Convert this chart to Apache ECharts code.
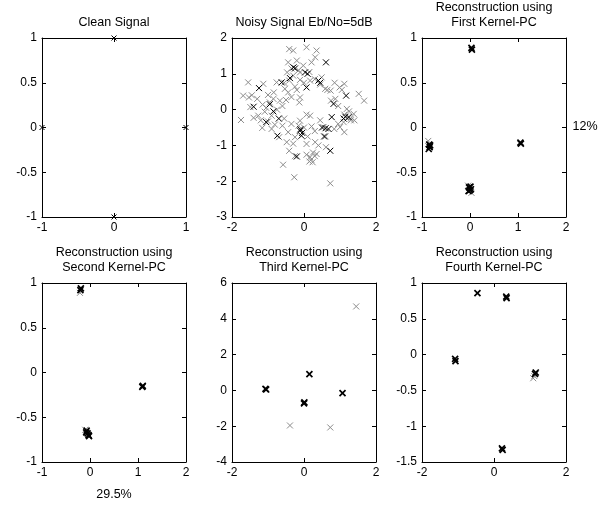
<!DOCTYPE html>
<html>
<head>
<meta charset="utf-8">
<script src="https://cdn.jsdelivr.net/npm/echarts@6/dist/echarts.min.js"></script>
<style>
  html, body { margin: 0; padding: 0; background: #fff; }
  #chart { width: 613px; height: 507px; }
</style>
</head>
<body>
<div id="chart"></div>
<script>
// panel titles
const titles = [
  'Clean Signal',
  'Noisy Signal Eb/No=5dB',
  'Reconstruction using\nFirst Kernel-PC',
  'Reconstruction using\nSecond Kernel-PC',
  'Reconstruction using\nThird Kernel-PC',
  'Reconstruction using\nFourth Kernel-PC',
]

// axis ranges [min, max, interval]
const xRanges = [[-1, 1, 1], [-2, 2, 2], [-1, 2, 1], [-1, 2, 1], [-2, 2, 2], [-2, 2, 2]]
const yRanges = [[-1, 1, 0.5], [-3, 2, 1], [-1, 1, 0.5], [-1, 1, 0.5], [-4, 6, 2], [-1.5, 1, 0.5]]

const cleanPts = [[0, 1], [0, -1], [-1, 0], [1, 0]]

const noisyGray = [
  [-1.75, -0.29], [-1.55, 0.76], [-1.69, 0.39], [-1.53, 0.34], [-1.49, 0.07], [-1.40, -0.23],
  [-1.27, -0.17], [-1.16, -0.51], [-1.13, 0.72], [-1.15, 0.14], [-1.09, -0.06], [-1.0, -0.33],
  [-0.90, -0.17], [-0.81, -0.42], [-0.90, -0.54], [-0.69, -0.77], [-1.0, 0.41], [-0.84, 0.48],
  [-0.76, 0.76], [-0.67, 0.25], [-0.50, 0.27], [-0.44, 0.48], [-0.53, 0.58], [-0.41, 0.81],
  [-0.47, 1.04], [-0.41, 1.69], [-0.30, 1.65], [-0.44, 1.32], [-0.20, 1.37], [-0.11, 1.04],
  [-0.11, 0.83], [-0.25, 0.64], [-0.11, 0.34], [-0.13, 0.20], [0.07, 1.74], [0.35, 1.65],
  [0.31, 1.46], [0.21, 1.32], [-0.02, 1.23], [0.17, 0.81], [0.49, 0.90], [0.59, 0.58],
  [0.74, 0.53], [0.87, 0.30], [0.99, 0.62], [1.12, 0.72], [1.19, 0.02], [1.52, 0.44],
  [1.67, 0.25], [1.38, -0.12], [1.12, -0.14], [1.0, -0.49], [1.12, -0.63], [0.84, -0.54],
  [0.54, -0.49], [0.21, -0.47], [0.07, -0.14], [0.17, -0.17], [-0.11, -0.31], [-0.25, -0.77],
  [-0.44, -0.63], [-0.48, -0.91], [-0.41, -1.15], [0.07, -0.96], [0.31, -0.91], [0.35, -1.24],
  [0.17, -1.33], [0.24, -1.47], [0.07, -1.26], [0.61, -1.05], [-0.58, -1.54], [-0.27, -1.89],
  [0.73, -2.06], [-1.3, 0.3], [-0.95, 0.2], [-0.6, 0.1], [-0.75, 0.0], [-0.3, 0.95],
  [-0.2, 0.55], [0.0, 0.75], [0.45, 0.7], [0.65, 0.55], [0.95, 0.1], [1.3, -0.3],
  [1.1, -0.35], [0.45, -0.3], [0.6, -0.75], [-0.35, -0.4], [-0.6, -0.45], [0.2, -1.4],
  [0.3, -1.3], [-0.25, -1.3], [0.0, -0.5], [-0.35, 0.35], [-0.15, 1.1], [0.85, 0.75],
  [1.4, -0.3], [-1.2, -0.3], [-1.45, 0.4], [-1.05, 0.05], [-0.85, 0.3], [-0.55, 0.75],
  [-0.35, 1.15], [0.15, 1.05], [0.3, 0.85], [0.75, 0.25], [1.05, 0.55], [1.25, -0.05],
  [1.3, -0.25], [0.95, -0.4], [0.3, -0.6], [0.1, -0.75], [-0.15, -0.45], [-0.3, -0.95],
  [0.25, -1.2], [0.15, -1.45], [0.4, -1.0], [-0.55, -0.25],
]
const noisyBlack = [
  [-1.25, 0.60], [-1.40, 0.08], [-0.74, -0.73], [-0.62, 0.76], [-0.39, 0.88], [-0.29, 1.18],
  [0.03, 1.04], [0.07, 0.62], [0.40, 0.81], [0.61, 1.32], [0.82, 0.16], [1.17, 0.39],
  [1.24, -0.21], [0.77, -0.21], [0.68, -0.54], [0.56, -0.75], [-0.11, -0.59], [-0.07, -0.73],
  [-0.20, -1.31], [0.73, -1.15], [-0.95, 0.15], [-0.7, -0.25], [0.5, -0.5], [0.6, -0.52],
  [-0.05, -0.65], [0.1, 1.0], [-0.25, 1.15], [1.15, -0.2], [-1.05, -0.35], [-0.85, -0.05],
  [0.45, 0.75], [-0.1, -0.55], [1.1, -0.25],
]

const pc1Gray = [[-0.87, -0.15], [-0.04, -0.65], [0.03, -0.73]]
const pc1Black = [
  [0.03, 0.89], [0.04, 0.87], [-0.85, -0.19], [-0.84, -0.22], [-0.86, -0.24], [-0.83, -0.2],
  [-0.02, -0.67], [0.0, -0.70], [0.02, -0.69], [-0.03, -0.71], [0.01, -0.66], [1.05, -0.17], [1.06, -0.18],
]
const pc2Gray = [[-0.21, 0.89], [-0.1, -0.64]]
const pc2Black = [
  [-0.19, 0.94], [-0.2, 0.92], [1.10, -0.15], [1.09, -0.16], [-0.07, -0.65], [-0.05, -0.68],
  [-0.03, -0.70], [-0.08, -0.67], [-0.02, -0.71],
]
const pc3Gray = [[1.45, 4.69], [-0.39, -1.96], [0.73, -2.07]]
const pc3Black = [[-1.07, 0.09], [-1.05, 0.05], [0.15, 0.91], [0.01, -0.67], [0.0, -0.72], [1.07, -0.15]]
const pc4Gray = [[1.09, -0.33], [1.12, -0.3]]
const pc4Black = [
  [-0.46, 0.86], [0.34, 0.81], [0.35, 0.79], [-1.08, -0.06], [-1.07, -0.09],
  [1.14, -0.27], [1.16, -0.25], [0.22, -1.31], [0.24, -1.33],
]

const panelGray = [[], noisyGray, pc1Gray, pc2Gray, pc3Gray, pc4Gray]
const panelBlack = [cleanPts, noisyBlack, pc1Black, pc2Black, pc3Black, pc4Black]

const colLeft = [42, 232, 422]
const rowTop = [38, 283]
const boxW = 144
const boxH = 179
const FONT = 'Arial, "Liberation Sans", sans-serif'
const XMARK = 'path://M0,0L10,10M10,0L0,10'

const grid = []
const xAxis = []
const yAxis = []
const series = []
const title = []

const axisBase = (show) => ({
    axisLine: { show: true, onZero: false, lineStyle: { color: '#000', width: 1 } },
    axisTick: { show: true, inside: true, length: 4, lineStyle: { color: '#000' } },
    axisLabel: { show: show, color: '#000', fontSize: 12, fontFamily: FONT, margin: 5 },
    splitLine: { show: false },
})

const markSeries = (data, color, size, lw, xi, yi) => ({
    type: 'scatter',
    xAxisIndex: xi,
    yAxisIndex: yi,
    data: data,
    symbol: XMARK,
    symbolSize: size,
    clip: false,
    silent: true,
    itemStyle: { color: 'none', borderColor: color, borderWidth: lw, opacity: 1 },
})

for (let i = 0; i < 6; i += 1) {
    const col = i % 3
    const row = Math.floor(i / 3)
    grid.push({ left: colLeft[col], top: rowTop[row], width: boxW, height: boxH })
    const [xmin, xmax, xint] = xRanges[i]
    const [ymin, ymax, yint] = yRanges[i]
    // bottom + top x axes, left + right y axes (MATLAB box)
    xAxis.push({ type: 'value', gridIndex: i, position: 'bottom', min: xmin, max: xmax, interval: xint, ...axisBase(true) })
    xAxis.push({ type: 'value', gridIndex: i, position: 'top', min: xmin, max: xmax, interval: xint, ...axisBase(false) })
    yAxis.push({ type: 'value', gridIndex: i, position: 'left', min: ymin, max: ymax, interval: yint, ...axisBase(true) })
    yAxis.push({ type: 'value', gridIndex: i, position: 'right', min: ymin, max: ymax, interval: yint, ...axisBase(false) })

    if (panelGray[i].length) series.push(markSeries(panelGray[i], '#8c8c8c', 6, 1, i * 2, i * 2))
    const lw = i >= 2 ? 1.7 : 1
    series.push(markSeries(panelBlack[i], '#000', i === 0 ? 5 : 6, lw, i * 2, i * 2))

    const twoLine = titles[i].indexOf('\n') >= 0
    title.push({
        text: titles[i],
        left: colLeft[col] + boxW / 2,
        top: rowTop[row] - (twoLine ? 38 : 23),
        textAlign: 'center',
        padding: 0,
        textStyle: { fontSize: 12.5, fontWeight: 'normal', color: '#000', fontFamily: FONT, lineHeight: 15 },
    })
}

// side annotations
title.push({
    text: '12%', left: 585, top: 120, textAlign: 'center', padding: 0,
    textStyle: { fontSize: 12.5, fontWeight: 'normal', color: '#000', fontFamily: FONT },
})
title.push({
    text: '29.5%', left: 114, top: 488, textAlign: 'center', padding: 0,
    textStyle: { fontSize: 12.5, fontWeight: 'normal', color: '#000', fontFamily: FONT },
})

const chart = echarts.init(document.getElementById('chart'))
chart.setOption({
    animation: false,
    backgroundColor: '#fff',
    title: title,
    grid: grid,
    xAxis: xAxis,
    yAxis: yAxis,
    series: series,
})
</script>
</body>
</html>
